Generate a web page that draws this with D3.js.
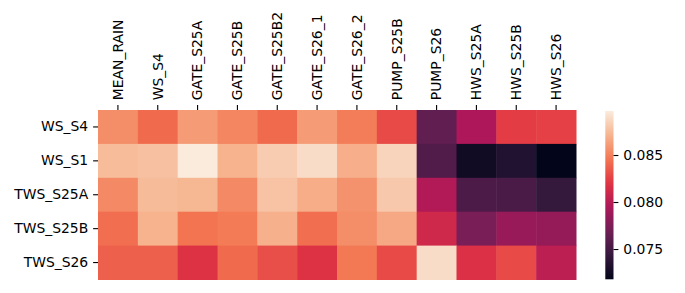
<!DOCTYPE html>
<html><head><meta charset="utf-8">
<script src="https://cdn.jsdelivr.net/npm/d3@7"></script>
<style>body{margin:0;background:#fff}text{font-family:"DejaVu Sans",sans-serif;font-size:13.9px;fill:#000}</style>
</head><body><svg id="c" width="685" height="293"></svg>
<script>
const columns = ["MEAN_RAIN","WS_S4","GATE_S25A","GATE_S25B","GATE_S25B2","GATE_S26_1","GATE_S26_2","PUMP_S25B","PUMP_S26","HWS_S25A","HWS_S25B","HWS_S26"];
const rows = ["WS_S4","WS_S1","TWS_S25A","TWS_S25B","TWS_S26"];
const vWS_S4   = [0.08556,0.08413,0.08610,0.08521,0.08413,0.08610,0.08485,0.08288,0.07626,0.07948,0.08234,0.08252];
const vWS_S1   = [0.08753,0.08771,0.08968,0.08708,0.08825,0.08896,0.08691,0.08861,0.07554,0.07250,0.07339,0.07178];
const vTWS_S25A= [0.08538,0.08744,0.08726,0.08538,0.08780,0.08682,0.08574,0.08807,0.07966,0.07536,0.07527,0.07429];
const vTWS_S25B= [0.08431,0.08708,0.08449,0.08476,0.08700,0.08431,0.08556,0.08664,0.08109,0.07733,0.07858,0.07840];
const vTWS_S26 = [0.08377,0.08377,0.08180,0.08413,0.08306,0.08180,0.08467,0.08288,0.08896,0.08171,0.08288,0.08019];
const cbTicks = [0.075,0.080,0.085];
const rocket = ["#03051a","#35193e","#701f57","#ad1759","#e13342","#f37651","#f6b48f","#faebdd"];

const values = [vWS_S4,vWS_S1,vTWS_S25A,vTWS_S25B,vTWS_S26];
const cells = [];
rows.forEach((r,i)=>columns.forEach((c,j)=>cells.push({r,c,v:values[i][j]})));
const vmin = d3.min(cells,d=>d.v), vmax = d3.max(cells,d=>d.v);
const interp = d3.piecewise(d3.interpolateRgb, rocket);
const color = d3.scaleSequential(interp).domain([vmin,vmax]);

const svg = d3.select("#c");
const L=98, R=576, T=110, B=279.5;
const x = d3.scaleBand().domain(columns).range([L,R]);
const y = d3.scaleBand().domain(rows).range([T,B]);

svg.append("g").selectAll("rect").data(cells).join("rect")
  .attr("x",d=>x(d.c)).attr("y",d=>y(d.r))
  .attr("width",x.bandwidth()+0.5).attr("height",y.bandwidth()+0.5)
  .attr("fill",d=>color(d.v));

const tk=4.9, pad=4.9;
const xa = svg.append("g").attr("transform",`translate(0,${T})`)
  .call(d3.axisTop(x).tickSize(tk).tickPadding(pad));
xa.select(".domain").remove();
xa.selectAll("line").attr("stroke","#000").attr("stroke-width",1.1);
xa.selectAll("text").attr("transform",`rotate(-90)`).attr("x",tk+pad).attr("y",0).attr("dy","0.35em")
  .attr("text-anchor","start").style("font-size","13.9px").style("font-family","DejaVu Sans").attr("fill","#000");

const ya = svg.append("g").attr("transform",`translate(${L},0)`)
  .call(d3.axisLeft(y).tickSize(tk).tickPadding(pad));
ya.select(".domain").remove();
ya.selectAll("line").attr("stroke","#000").attr("stroke-width",1.1);
ya.selectAll("text").style("font-size","13.9px").style("font-family","DejaVu Sans").attr("fill","#000");

// colorbar
const cx0=605.3, cw=8.2, cT=111, cB=279.3;
const defs = svg.append("defs");
const grad = defs.append("linearGradient").attr("id","g").attr("x1",0).attr("y1",1).attr("x2",0).attr("y2",0);
d3.range(0,1.0001,0.05).forEach(t=>grad.append("stop").attr("offset",t).attr("stop-color",interp(t)));
svg.append("rect").attr("x",cx0).attr("y",cT).attr("width",cw).attr("height",cB-cT).attr("fill","url(#g)");
const cy = d3.scaleLinear().domain([vmin,vmax]).range([cB,cT]);
const ca = svg.append("g").attr("transform",`translate(${cx0+cw},0)`)
  .call(d3.axisRight(cy).tickValues(cbTicks).tickFormat(d3.format(".3f")).tickSize(tk).tickPadding(pad));
ca.select(".domain").remove();
ca.selectAll("line").attr("stroke","#000").attr("stroke-width",1.1);
ca.selectAll("text").style("font-size","13.9px").style("font-family","DejaVu Sans").attr("fill","#000");
</script></body></html>
